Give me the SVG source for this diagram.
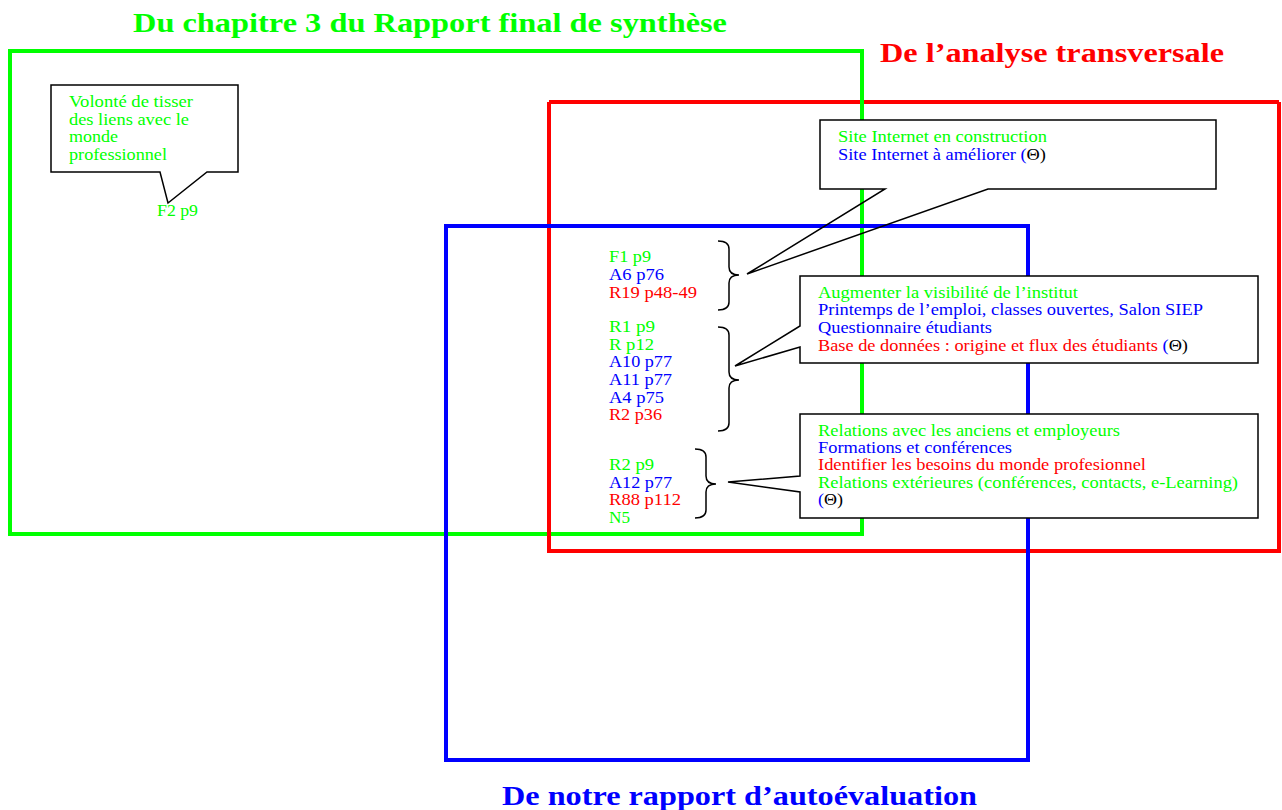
<svg xmlns="http://www.w3.org/2000/svg" width="1282" height="810" viewBox="0 0 1282 810">
  <style>
    .t { font-family: "Liberation Serif", "Times New Roman", serif; font-size: 16px; }
    .h { font-family: "Liberation Serif", "Times New Roman", serif; font-size: 28px; font-weight: bold; }
    .g { fill: #00ff00; }
    .b { fill: #0000ff; }
    .r { fill: #ff0000; }
    .k { fill: #000000; }
    .frame { fill: none; stroke-width: 4; stroke-linejoin: miter; }
    .call { fill: none; stroke: #000; stroke-width: 1.5; stroke-linejoin: miter; }
    .pad { fill: #ffffff; stroke: none; }
    .brace { fill: none; stroke: #000; stroke-width: 1.5; }
  </style>

  <!-- titles -->
  <text class="h g" x="133" y="32" textLength="594" lengthAdjust="spacingAndGlyphs">Du chapitre 3 du Rapport final de synthèse</text>
  <text class="h r" x="880" y="62" textLength="344" lengthAdjust="spacingAndGlyphs">De l’analyse transversale</text>
  <text class="h b" x="502" y="805" textLength="475" lengthAdjust="spacingAndGlyphs">De notre rapport d’autoévaluation</text>

  <!-- source frames -->
  <g id="frames">
    <path class="frame" stroke="#ff0000" d="M549,102 H1279"/>
    <rect id="frame-synthese" class="frame" stroke="#00ff00" x="10" y="51" width="852" height="483"/>
    <path id="frame-transversale" class="frame" stroke="#ff0000" d="M1279,102 V551 H549 V102"/>
    <rect id="frame-autoevaluation" class="frame" stroke="#0000ff" x="446" y="226" width="582" height="534"/>
  </g>

  <!-- reference lists -->
  <g id="refs-1">
    <text class="t g" x="609" y="262" textLength="42" lengthAdjust="spacingAndGlyphs">F1 p9</text>
    <text class="t b" x="609" y="280" textLength="55" lengthAdjust="spacingAndGlyphs">A6 p76</text>
    <text class="t r" x="609" y="298" textLength="88" lengthAdjust="spacingAndGlyphs">R19 p48-49</text>
  </g>
  <g id="refs-2">
    <text class="t g" x="609" y="332" textLength="46" lengthAdjust="spacingAndGlyphs">R1 p9</text>
    <text class="t g" x="609" y="350" textLength="45" lengthAdjust="spacingAndGlyphs">R p12</text>
    <text class="t b" x="609" y="367" textLength="63" lengthAdjust="spacingAndGlyphs">A10 p77</text>
    <text class="t b" x="609" y="385" textLength="63" lengthAdjust="spacingAndGlyphs">A11 p77</text>
    <text class="t b" x="609" y="403" textLength="55" lengthAdjust="spacingAndGlyphs">A4 p75</text>
    <text class="t r" x="609" y="420" textLength="53" lengthAdjust="spacingAndGlyphs">R2 p36</text>
  </g>
  <g id="refs-3">
    <text class="t g" x="609" y="470" textLength="45" lengthAdjust="spacingAndGlyphs">R2 p9</text>
    <text class="t b" x="609" y="488" textLength="63" lengthAdjust="spacingAndGlyphs">A12 p77</text>
    <text class="t r" x="609" y="505" textLength="72" lengthAdjust="spacingAndGlyphs">R88 p112</text>
    <text class="t g" x="609" y="523" textLength="21" lengthAdjust="spacingAndGlyphs">N5</text>
  </g>

  <!-- braces grouping the references -->
  <g id="connectors">
    <path class="brace" d="M718,241 Q729,241 729,249 L729,267 Q729,275 739,275 Q729,275 729,283 L729,302 Q729,310 718,310"/>
    <path class="brace" d="M718,327 Q729,327 729,335 L729,372 Q729,380 739,380 Q729,380 729,388 L729,423 Q729,431 718,431"/>
    <path class="brace" d="M695,449 Q706,449 706,457 L706,476 Q706,484 716,484 Q706,484 706,492 L706,510 Q706,518 695,518"/>
  </g>

  <!-- callout: professional ties -->
  <g id="callout-liens">
    <rect class="pad" x="51" y="85" width="187" height="87"/>
    <path class="call" d="M51,85 H238 V172 H207 L168,203 L160,172 H51 Z"/>
    <text class="t g" x="69" y="107" textLength="124" lengthAdjust="spacingAndGlyphs">Volonté de tisser</text>
    <text class="t g" x="69" y="125" textLength="120" lengthAdjust="spacingAndGlyphs">des liens avec le</text>
    <text class="t g" x="69" y="142" textLength="49" lengthAdjust="spacingAndGlyphs">monde</text>
    <text class="t g" x="69" y="160" textLength="98" lengthAdjust="spacingAndGlyphs">professionnel</text>
    <text class="t g" x="157" y="216" textLength="41" lengthAdjust="spacingAndGlyphs">F2 p9</text>
  </g>

  <!-- callout: website -->
  <g id="callout-site">
    <rect class="pad" x="820" y="120" width="396" height="69"/>
    <path class="call" d="M820,120 H1216 V189 H988 L747,274 L885,189 H820 Z"/>
    <text class="t g" x="838" y="142" textLength="209" lengthAdjust="spacingAndGlyphs">Site Internet en construction</text>
    <text class="t b" x="838" y="160" textLength="208" lengthAdjust="spacingAndGlyphs">Site Internet à améliorer (<tspan class="k">Θ)</tspan></text>
  </g>

  <!-- callout: visibility -->
  <g id="callout-visibilite">
    <rect class="pad" x="800" y="276" width="458" height="87"/>
    <path class="call" d="M800,276 H1258 V363 H800 V347 L735,366 L800,326 Z"/>
    <text class="t g" x="818" y="298" textLength="260" lengthAdjust="spacingAndGlyphs">Augmenter la visibilité de l’institut</text>
    <text class="t b" x="818" y="315" textLength="385" lengthAdjust="spacingAndGlyphs">Printemps de l’emploi, classes ouvertes, Salon SIEP</text>
    <text class="t b" x="818" y="333" textLength="174" lengthAdjust="spacingAndGlyphs">Questionnaire étudiants</text>
    <text class="t r" x="818" y="351" textLength="370" lengthAdjust="spacingAndGlyphs">Base de données : origine et flux des étudiants <tspan class="b">(</tspan><tspan class="k">Θ)</tspan></text>
  </g>

  <!-- callout: external relations -->
  <g id="callout-relations">
    <rect class="pad" x="800" y="414" width="458" height="104"/>
    <path class="call" d="M800,414 H1258 V518 H800 V492 L728,482 L800,476 Z"/>
    <text class="t g" x="818" y="436" textLength="302" lengthAdjust="spacingAndGlyphs">Relations avec les anciens et employeurs</text>
    <text class="t b" x="818" y="453" textLength="194" lengthAdjust="spacingAndGlyphs">Formations et conférences</text>
    <text class="t r" x="818" y="470" textLength="328" lengthAdjust="spacingAndGlyphs">Identifier les besoins du monde profesionnel</text>
    <text class="t g" x="818" y="488" textLength="420" lengthAdjust="spacingAndGlyphs">Relations extérieures (conférences, contacts, e-Learning)</text>
    <text class="t b" x="818" y="505" textLength="25" lengthAdjust="spacingAndGlyphs">(<tspan class="k">Θ)</tspan></text>
  </g>
</svg>
